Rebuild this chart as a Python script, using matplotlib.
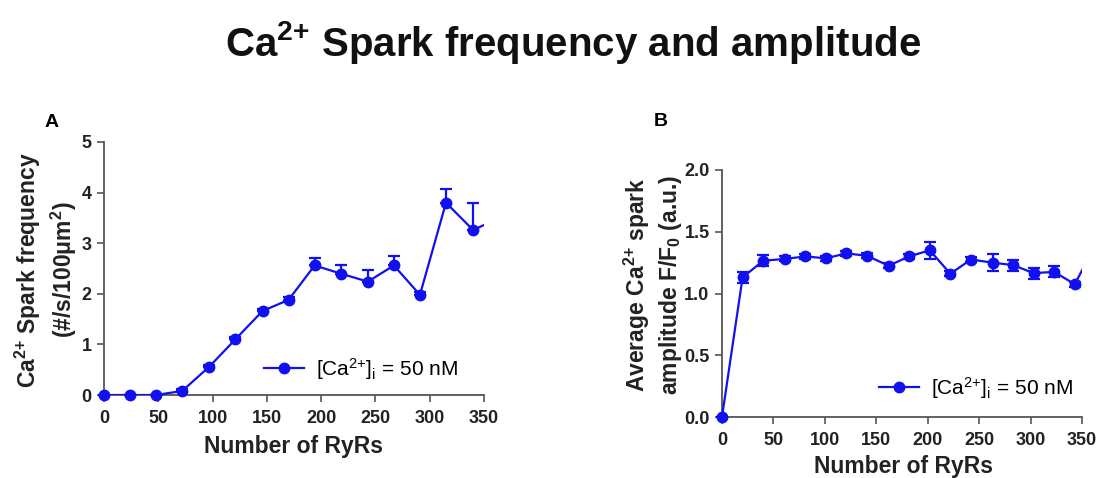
import numpy as np
import matplotlib
matplotlib.use("Agg")
import matplotlib.pyplot as plt

plt.rcParams['font.family'] = ['Liberation Sans', 'DejaVu Sans']
plt.rcParams['mathtext.fontset'] = 'custom'
plt.rcParams['mathtext.rm'] = 'Liberation Sans'
plt.rcParams['mathtext.it'] = 'Liberation Sans:italic'
plt.rcParams['mathtext.bf'] = 'Liberation Sans:bold'
plt.rcParams['mathtext.default'] = 'regular'

# ---- data ----
title = "Ca$^{2{+}}$ Spark frequency and amplitude"
xticks = [0, 50, 100, 150, 200, 250, 300, 350]

a_x = [0, 24, 48, 72, 97, 121, 146, 170, 194, 218, 243, 267, 291, 315, 340, 364]
a_y = [0.0, 0.0, 0.0, 0.08, 0.56, 1.10, 1.66, 1.88, 2.56, 2.40, 2.24, 2.56, 1.98, 3.80, 3.26, 3.50]
a_err_up = [0.0, 0.0, 0.0, 0.03, 0.04, 0.05, 0.04, 0.05, 0.14, 0.17, 0.24, 0.19, 0.06, 0.27, 0.54, 0.0]
a_yticks = [0, 1, 2, 3, 4, 5]

b_x = [0, 20, 40, 61, 81, 101, 121, 141, 162, 182, 202, 222, 242, 263, 283, 303, 323, 343, 364]
b_y = [0.0, 1.13, 1.265, 1.28, 1.30, 1.285, 1.325, 1.305, 1.225, 1.30, 1.35, 1.16, 1.275, 1.25, 1.23, 1.165, 1.175, 1.075, 1.41]
b_err = [0.0, 0.045, 0.045, 0.02, 0.02, 0.02, 0.02, 0.02, 0.02, 0.02, 0.07, 0.02, 0.02, 0.07, 0.045, 0.045, 0.045, 0.02, 0.0]
b_yticks = [0.0, 0.5, 1.0, 1.5, 2.0]

legend_label = "[Ca$^{2{+}}$]$_i$ = 50 nM"
ylabel_a = "Ca$^{2{+}}$ Spark frequency\n(#/s/100\u03bcm$^{2}$)"
ylabel_b = "Average Ca$^{2{+}}$ spark\namplitude F/F$_0$ (a.u.)"
xlabel = "Number of RyRs"
color = '#1010f0'

W, H = 1118, 478
fig = plt.figure(figsize=(W/100, H/100), dpi=100)

def px(x, y):
    return x / W, 1 - y / H

def style(ax):
    for s in ['top', 'right']:
        ax.spines[s].set_visible(False)
    for s in ['left', 'bottom']:
        ax.spines[s].set_color('#555555')
        ax.spines[s].set_linewidth(1.3)
    ax.tick_params(direction='out', length=5, width=1.2, color='#555555',
                   labelsize=13, pad=4)
    ax.tick_params(axis='x', pad=6)
    for lab in ax.get_xticklabels() + ax.get_yticklabels():
        lab.set_fontweight('bold')
        lab.set_color('#222222')

def draw(ax, x, y, yerr, xmax):
    x = np.asarray(x); y = np.asarray(y)
    ax.plot(x, y, color=color, lw=1.6, zorder=3)
    vis = x <= xmax
    ax.errorbar(x[vis], y[vis], yerr=yerr[:, vis] if yerr.ndim == 2 else yerr[vis],
                fmt='o', color=color, ms=7.5, capsize=4, elinewidth=1.6,
                capthick=1.6, clip_on=False, zorder=4)

# Panel A
axA = fig.add_axes([104/W, 1-395/H, 380/W, 253/H])
ea = np.array([np.zeros(len(a_err_up)), a_err_up])
draw(axA, a_x, a_y, ea, 350)
axA.set_xlim(0, 350); axA.set_ylim(0, 5)
axA.set_xticks(xticks); axA.set_yticks(a_yticks)
style(axA)
axA.plot([], [], '-o', color=color, lw=1.6, ms=7.5, label=legend_label)
h, l = axA.get_legend_handles_labels()
axA.legend(h[-1:], l[-1:], loc='center left', bbox_to_anchor=px(264, 369),
           bbox_transform=fig.transFigure, frameon=False, fontsize=15,
           handlelength=1.9, borderpad=0, borderaxespad=0, handletextpad=0.6)

# Panel B
axB = fig.add_axes([722/W, 1-417/H, 360/W, 247/H])
draw(axB, b_x, b_y, np.asarray(b_err), 350)
axB.set_xlim(0, 350); axB.set_ylim(0, 2.0)
axB.set_xticks(xticks); axB.set_yticks(b_yticks)
axB.set_yticklabels([f"{v:.1f}" for v in b_yticks])
style(axB)
axB.plot([], [], '-o', color=color, lw=1.6, ms=7.5, label=legend_label)
h, l = axB.get_legend_handles_labels()
axB.legend(h[-1:], l[-1:], loc='center left', bbox_to_anchor=px(879, 388),
           bbox_transform=fig.transFigure, frameon=False, fontsize=15,
           handlelength=1.9, borderpad=0, borderaxespad=0, handletextpad=0.6)

# texts
fig.text(*px(573, 42), title, ha='center', va='center', fontsize=29,
         fontweight='bold', color='#111111')
fig.text(*px(52, 123), "A", ha='center', va='center', fontsize=14, fontweight='bold')
fig.text(*px(661, 122), "B", ha='center', va='center', fontsize=14, fontweight='bold')

fig.text(*px(46, 270), ylabel_a, rotation=90,
         ha='center', va='center', fontsize=16.5, fontweight='bold', linespacing=1.25,
         color='#222222')
fig.text(*px(653, 285), ylabel_b, rotation=90,
         ha='center', va='center', fontsize=16.5, fontweight='bold', linespacing=1.25,
         color='#222222')
fig.text(*px(294, 447), xlabel, ha='center', va='center', fontsize=16.5,
         fontweight='bold', color='#222222')
fig.text(*px(903, 467), xlabel, ha='center', va='center', fontsize=16.5,
         fontweight='bold', color='#222222')

fig.savefig("out.png", dpi=100)
